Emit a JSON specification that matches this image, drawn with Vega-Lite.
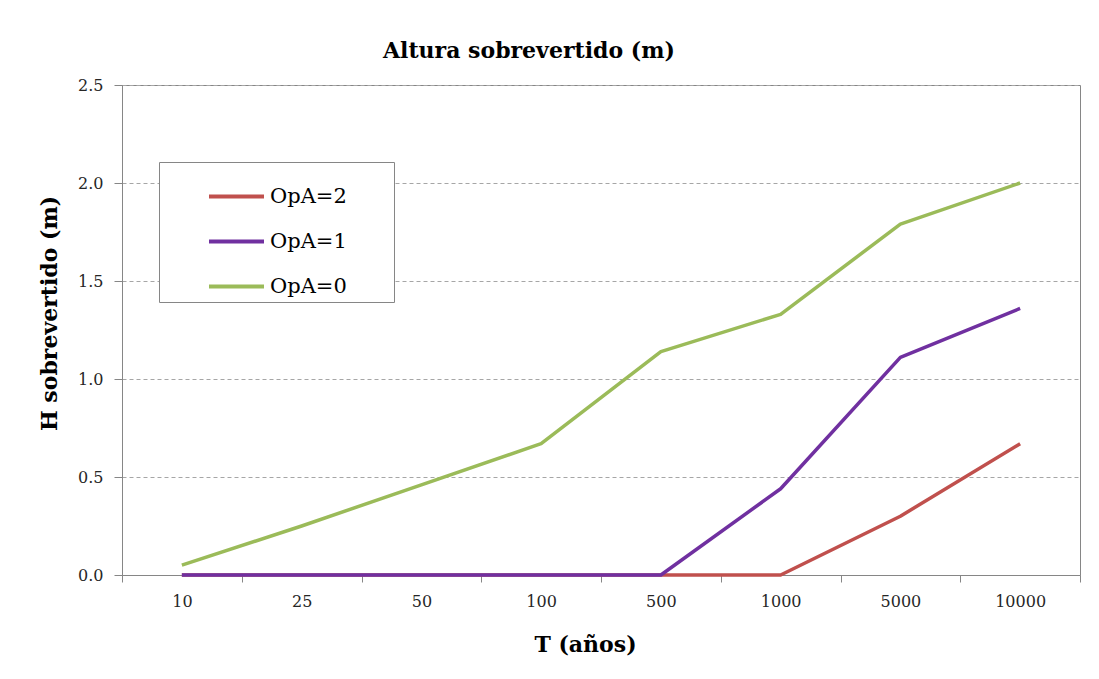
{
  "$schema": "https://vega.github.io/schema/vega-lite/v6.json",
  "width": 958,
  "height": 490,
  "autosize": {"type": "none"},
  "padding": {"left": 122, "top": 85, "right": 19, "bottom": 104},
  "background": "white",
  "title": {
    "text": "Altura sobrevertido (m)",
    "font": "DejaVu Serif",
    "fontSize": 22,
    "fontWeight": "bold",
    "color": "#000000",
    "anchor": "start",
    "frame": "group",
    "dx": 261,
    "offset": 14
  },
  "data": {
    "values": [
      {"T": "10", "H": 0, "serie": "OpA=2"},
      {"T": "25", "H": 0, "serie": "OpA=2"},
      {"T": "50", "H": 0, "serie": "OpA=2"},
      {"T": "100", "H": 0, "serie": "OpA=2"},
      {"T": "500", "H": 0, "serie": "OpA=2"},
      {"T": "1000", "H": 0, "serie": "OpA=2"},
      {"T": "5000", "H": 0.30, "serie": "OpA=2"},
      {"T": "10000", "H": 0.67, "serie": "OpA=2"},
      {"T": "10", "H": 0, "serie": "OpA=1"},
      {"T": "25", "H": 0, "serie": "OpA=1"},
      {"T": "50", "H": 0, "serie": "OpA=1"},
      {"T": "100", "H": 0, "serie": "OpA=1"},
      {"T": "500", "H": 0, "serie": "OpA=1"},
      {"T": "1000", "H": 0.44, "serie": "OpA=1"},
      {"T": "5000", "H": 1.11, "serie": "OpA=1"},
      {"T": "10000", "H": 1.36, "serie": "OpA=1"},
      {"T": "10", "H": 0.05, "serie": "OpA=0"},
      {"T": "25", "H": 0.25, "serie": "OpA=0"},
      {"T": "50", "H": 0.46, "serie": "OpA=0"},
      {"T": "100", "H": 0.67, "serie": "OpA=0"},
      {"T": "500", "H": 1.14, "serie": "OpA=0"},
      {"T": "1000", "H": 1.33, "serie": "OpA=0"},
      {"T": "5000", "H": 1.79, "serie": "OpA=0"},
      {"T": "10000", "H": 2.0, "serie": "OpA=0"}
    ]
  },
  "mark": {"type": "line", "strokeWidth": 3.5, "strokeCap": "butt", "strokeJoin": "round"},
  "encoding": {
    "x": {
      "field": "T",
      "type": "nominal",
      "sort": ["10", "25", "50", "100", "500", "1000", "5000", "10000"],
      "scale": {"type": "band", "paddingInner": 0, "paddingOuter": 0},
      "axis": {
        "title": "T (años)",
        "titleFont": "DejaVu Serif",
        "titleFontSize": 22,
        "titleFontWeight": "bold",
        "titleColor": "#000000",
        "titlePadding": 25,
        "titleX": 463,
        "labelFont": "DejaVu Serif",
        "labelFontSize": 16,
        "labelColor": "#262626",
        "labelAngle": 0,
        "labelPadding": 11,
        "tickBand": "extent",
        "tickSize": 7,
        "tickColor": "#868686",
        "domainColor": "#868686",
        "grid": false
      }
    },
    "y": {
      "field": "H",
      "type": "quantitative",
      "scale": {"domain": [0, 2.5], "nice": false},
      "axis": {
        "title": "H sobrevertido (m)",
        "titleFont": "DejaVu Serif",
        "titleFontSize": 22,
        "titleFontWeight": "bold",
        "titleColor": "#000000",
        "titlePadding": 16,
        "titleY": 228,
        "values": [0, 0.5, 1, 1.5, 2, 2.5],
        "format": ".1f",
        "labelFont": "DejaVu Serif",
        "labelFontSize": 16,
        "labelColor": "#262626",
        "labelPadding": 11,
        "tickSize": 8,
        "tickColor": "#868686",
        "domainColor": "#868686",
        "grid": true,
        "gridColor": "#A6A6A6",
        "gridDash": [4, 3],
        "gridWidth": 1
      }
    },
    "color": {
      "field": "serie",
      "type": "nominal",
      "scale": {
        "domain": ["OpA=2", "OpA=1", "OpA=0"],
        "range": ["#C0504D", "#7030A0", "#9BBB59"]
      },
      "legend": {
        "title": null,
        "orient": "none",
        "legendX": 37,
        "legendY": 77,
        "strokeColor": "#868686",
        "fillColor": "white",
        "padding": 5,
        "symbolType": "stroke",
        "symbolSize": 3025,
        "symbolStrokeWidth": 4,
        "symbolOffset": 43,
        "labelFont": "DejaVu Serif",
        "labelFontSize": 21,
        "labelColor": "#000000",
        "labelOffset": 4,
        "labelLimit": 400,
        "rowPadding": 5,
        "labelExpr": "datum.label + '\u2002\u2002\u2002\u2002\u200b'"
      }
    }
  },
  "config": {
    "view": {"stroke": "#868686", "strokeWidth": 1}
  }
}
